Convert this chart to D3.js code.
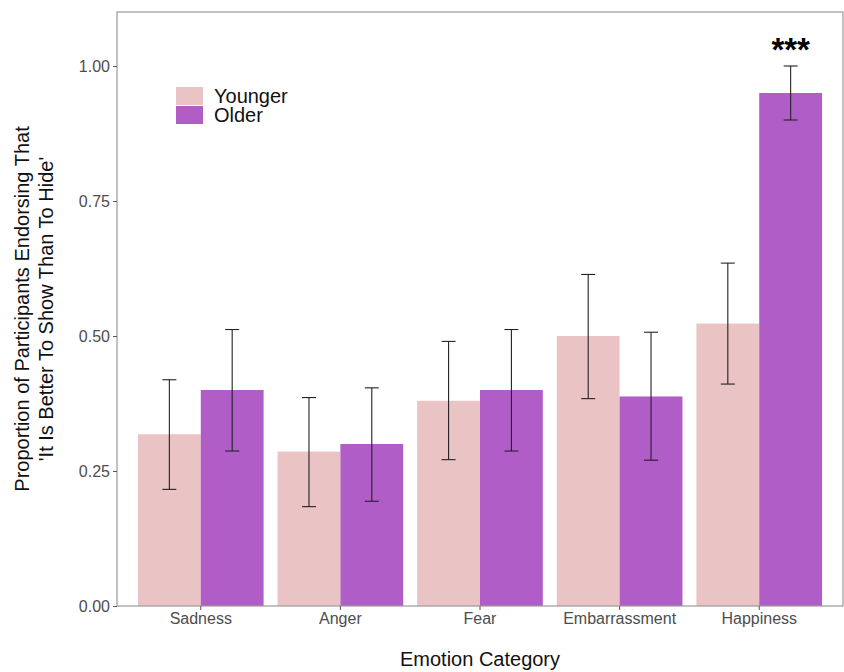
<!DOCTYPE html>
<html>
<head>
<meta charset="utf-8">
<script src="https://cdn.jsdelivr.net/npm/d3@7"></script>
<style>
  body { margin: 0; background: #fff; }
  svg { display: block; font-family: "Liberation Sans", Arial, sans-serif; }
</style>
</head>
<body>
<svg id="chart" width="844" height="672"></svg>
<script>
// Emotion categories and group names
const categories = ["Sadness", "Anger", "Fear", "Embarrassment", "Happiness"];
const groups = ["Younger", "Older"];

// Proportions endorsing "better to show than to hide"
const younger = [0.318, 0.286, 0.380, 0.500, 0.523];
const older = [0.400, 0.300, 0.400, 0.388, 0.950];

// Error bar bounds
const youngerLow = [0.216, 0.184, 0.271, 0.384, 0.411];
const youngerHigh = [0.419, 0.386, 0.490, 0.614, 0.635];
const olderLow = [0.287, 0.194, 0.287, 0.270, 0.900];
const olderHigh = [0.512, 0.404, 0.512, 0.507, 1.000];

const yTicks = [0, 0.25, 0.5, 0.75, 1.0];
const colors = { Younger: "#EAC4C4", Older: "#B15DC7" };

const svg = d3.select("#chart");
const m = { left: 117, right: 843, top: 12, bottom: 606 };

const y = d3.scaleLinear().domain([0, 1.1]).range([m.bottom, m.top]);
const x = d3.scaleBand().domain(categories)
  .range([m.left, m.right]).paddingInner(0.1).paddingOuter(0.15);
const xs = d3.scaleBand().domain(groups).range([0, x.bandwidth()]);

const rows = [];
categories.forEach((c, i) => {
  rows.push({ cat: c, grp: "Younger", v: younger[i], lo: youngerLow[i], hi: youngerHigh[i] });
  rows.push({ cat: c, grp: "Older", v: older[i], lo: olderLow[i], hi: olderHigh[i] });
});

// Bars
svg.append("g").selectAll("rect").data(rows).join("rect")
  .attr("x", d => x(d.cat) + xs(d.grp))
  .attr("width", xs.bandwidth())
  .attr("y", d => y(d.v))
  .attr("height", d => y(0) - y(d.v))
  .attr("fill", d => colors[d.grp]);

// Error bars
const capW = x.step() * 0.1;
const eb = svg.append("g").attr("stroke", "#222").attr("stroke-width", 1.1).attr("fill", "none");
rows.forEach(d => {
  const cx = x(d.cat) + xs(d.grp) + xs.bandwidth() / 2;
  eb.append("line").attr("x1", cx).attr("x2", cx).attr("y1", y(d.lo)).attr("y2", y(d.hi));
  eb.append("line").attr("x1", cx - capW / 2).attr("x2", cx + capW / 2).attr("y1", y(d.lo)).attr("y2", y(d.lo));
  eb.append("line").attr("x1", cx - capW / 2).attr("x2", cx + capW / 2).attr("y1", y(d.hi)).attr("y2", y(d.hi));
});

// Panel border
svg.append("rect")
  .attr("x", m.left).attr("y", m.top)
  .attr("width", m.right - m.left).attr("height", m.bottom - m.top)
  .attr("fill", "none").attr("stroke", "#9a9a9a").attr("stroke-width", 1.2);

// Axes
const yAxis = svg.append("g").attr("transform", `translate(${m.left},0)`)
  .call(d3.axisLeft(y).tickValues(yTicks).tickFormat(d3.format(".2f")).tickSize(4).tickPadding(3));
const xAxis = svg.append("g").attr("transform", `translate(0,${m.bottom})`)
  .call(d3.axisBottom(x).tickSize(4).tickPadding(3));
[yAxis, xAxis].forEach(a => {
  a.select(".domain").remove();
  a.selectAll(".tick line").attr("stroke", "#555");
  a.selectAll("text").attr("fill", "#4d4d4d").style("font-size", "16px")
    .style("font-family", "'Liberation Sans', Arial, sans-serif");
});

// Significance marker
const happyCx = x("Happiness") + xs("Older") + xs.bandwidth() / 2;
svg.append("text")
  .attr("x", happyCx).attr("y", 61)
  .attr("text-anchor", "middle")
  .style("font-size", "33px").style("font-weight", "bold")
  .text("***");

// Axis titles
svg.append("text")
  .attr("x", (m.left + m.right) / 2).attr("y", 666)
  .attr("text-anchor", "middle").style("font-size", "20px").attr("fill", "#111")
  .text("Emotion Category");

const yt = svg.append("text")
  .attr("transform", `translate(0,${(m.top + m.bottom) / 2}) rotate(-90)`)
  .attr("text-anchor", "middle").style("font-size", "20px").attr("fill", "#111");
yt.append("tspan").attr("x", 0).attr("y", 29).text("Proportion of Participants Endorsing That");
yt.append("tspan").attr("x", 0).attr("y", 53).text("'It Is Better To Show Than To Hide'");

// Legend
const legend = svg.append("g");
groups.forEach((g, i) => {
  const ly = 87 + i * 19;
  legend.append("rect").attr("x", 176).attr("y", ly).attr("width", 27).attr("height", 18)
    .attr("fill", colors[g]);
  legend.append("text").attr("x", 214).attr("y", ly + 16)
    .style("font-size", "20px").attr("fill", "#111").text(g);
});
</script>
</body>
</html>
